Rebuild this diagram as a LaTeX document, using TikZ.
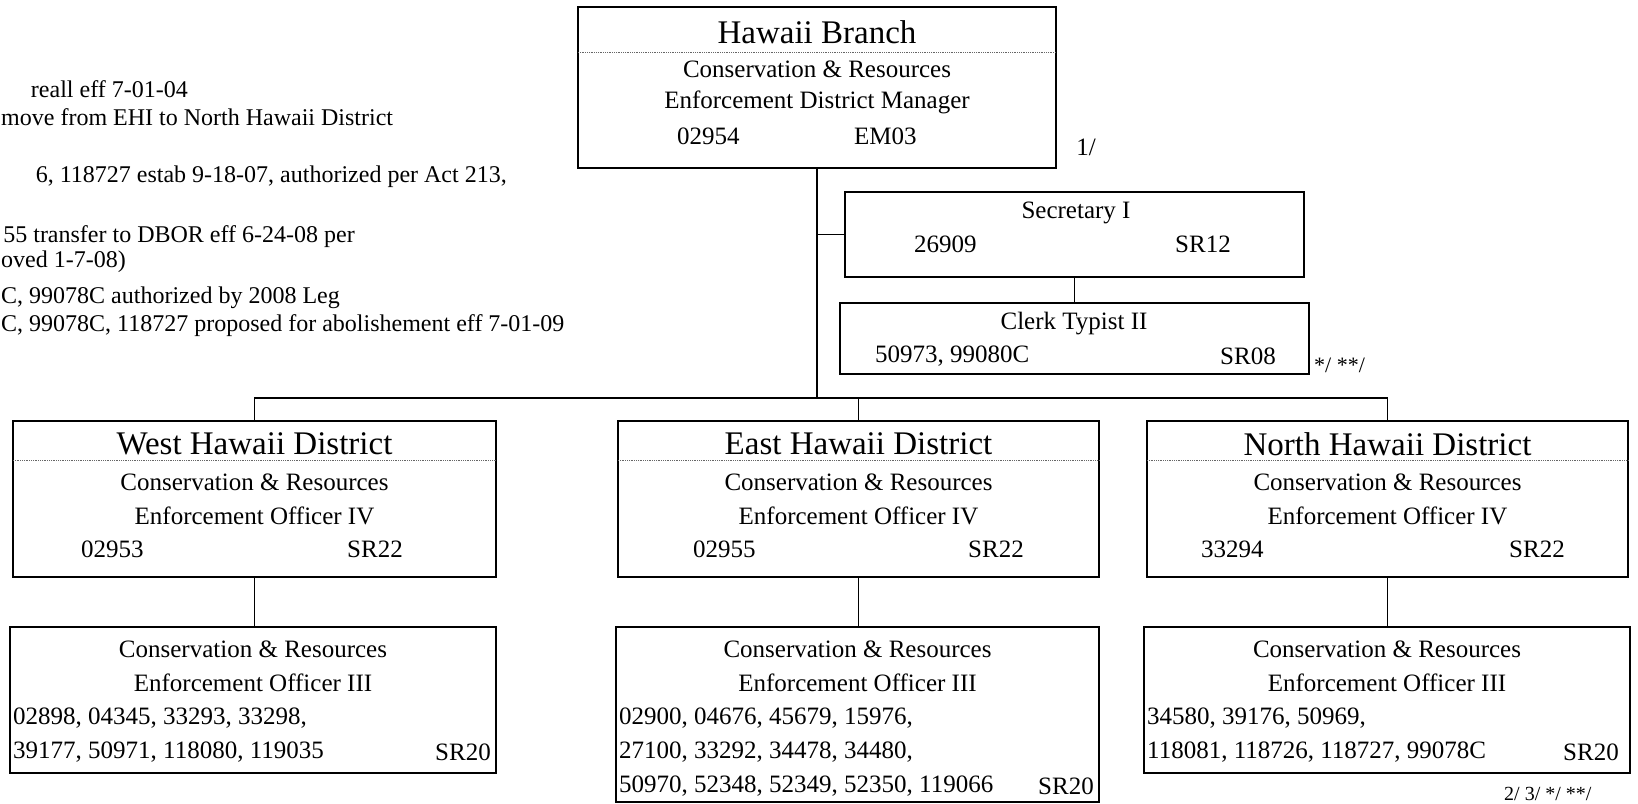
\documentclass[tikz,border=0pt]{standalone}
\usepackage{fontspec}
\setmainfont{Liberation Serif}
\usepackage{tikz}

\tikzset{
  box/.style={draw, line width=1.6pt, inner sep=0pt},
  link/.style={line width=1.6pt},
  divline/.style={densely dotted, line width=0.8pt, black!60},
  txt/.style={font=\fontsize{25}{30}\selectfont, inner sep=0pt},
  ttl/.style={font=\fontsize{33}{40}\selectfont, inner sep=0pt},
  note/.style={font=\fontsize{24}{28}\selectfont, inner sep=0pt, anchor=east},
  foot/.style={font=\fontsize{22}{26}\selectfont, inner sep=0pt}
}

\begin{document}
\begin{tikzpicture}[x=1pt, y=-1pt]
    \useasboundingbox (0,0) rectangle (1638,803);

    % Notes at the left
    \node[note] (n1) at (188,89) {reall eff 7-01-04};
    \node[note, anchor=west] (n2) at (1,117) {move from EHI to North Hawaii District};
    \node[note] (n3) at (507,177) {6, 118727 estab 9-18-07, authorized per Act 213,};
    \node[note] (n4) at (355,237) {55 transfer to DBOR eff 6-24-08 per};
    \node[note, anchor=west] (n5) at (1,262) {oved 1-7-08)};
    \node[note, anchor=west] (n6) at (1,298) {C, 99078C authorized by 2008 Leg};
    \node[note, anchor=west] (n7) at (1,326) {C, 99078C, 118727 proposed for abolishement eff 7-01-09};

    % Branch manager
    \node[box, minimum width=478pt, minimum height=161pt] (hb) at (817,87.5) {};
    \draw[divline] (578,52) -- (1056,52);
    \node[ttl] (hbT) at (817,32) {Hawaii Branch};
    \node[txt] (hbA) at (817,69) {Conservation \& Resources};
    \node[txt] (hbB) at (817,102) {Enforcement District Manager};
    \node[txt, anchor=west] (hbN) at (677,136) {02954};
    \node[txt, anchor=west] (hbG) at (854,136) {EM03};
    \node[txt] (fn1) at (1086,147) {1/};

    % Secretary and clerk
    \node[box, minimum width=459pt, minimum height=85pt] (sec) at (1074.5,234.5) {};
    \node[txt] (secT) at (1076,213) {Secretary I};
    \node[txt, anchor=west] (secN) at (914,244) {26909};
    \node[txt, anchor=west] (secG) at (1175,244) {SR12};
    \node[box, minimum width=469pt, minimum height=71pt] (clk) at (1074.5,338.5) {};
    \node[txt] (clkT) at (1074,324) {Clerk Typist II};
    \node[txt, anchor=west] (clkN) at (875,356) {50973, 99080C};
    \node[txt, anchor=west] (clkG) at (1220,356) {SR08};
    \node[foot, anchor=west] (fn2) at (1314,365) {*/ **/};

    % West Hawaii
    \node[box, minimum width=483pt, minimum height=156pt] (wd) at (254.5,499) {};
    \draw[divline] (13,460) -- (496,460);
    \node[ttl] (wdT) at (254.5,444) {West Hawaii District};
    \node[txt] (wdA) at (254.5,482) {Conservation \& Resources};
    \node[txt] (wdB) at (254.5,516) {Enforcement Officer IV};
    \node[txt, anchor=west] (wdN) at (81,549) {02953};
    \node[txt, anchor=west] (wdG) at (347,549) {SR22};

    % East Hawaii
    \node[box, minimum width=481pt, minimum height=156pt] (ed) at (858.5,499) {};
    \draw[divline] (618,460) -- (1099,460);
    \node[ttl] (edT) at (858.5,444) {East Hawaii District};
    \node[txt] (edA) at (858.5,482) {Conservation \& Resources};
    \node[txt] (edB) at (858.5,516) {Enforcement Officer IV};
    \node[txt, anchor=west] (edN) at (693,549) {02955};
    \node[txt, anchor=west] (edG) at (968,549) {SR22};

    % North Hawaii
    \node[box, minimum width=481pt, minimum height=156pt] (nd) at (1387.5,499) {};
    \draw[divline] (1147,460) -- (1628,460);
    \node[ttl] (ndT) at (1387.5,444) {North Hawaii District};
    \node[txt] (ndA) at (1387.5,482) {Conservation \& Resources};
    \node[txt] (ndB) at (1387.5,516) {Enforcement Officer IV};
    \node[txt, anchor=west] (ndN) at (1201,549) {33294};
    \node[txt, anchor=west] (ndG) at (1509,549) {SR22};

    % Officers III
    \node[box, minimum width=486pt, minimum height=146pt] (wl) at (253,700) {};
    \node[txt] (wlA) at (253,649) {Conservation \& Resources};
    \node[txt] (wlB) at (253,683) {Enforcement Officer III};
    \node[txt, anchor=west] (wlL1) at (13,718) {02898, 04345, 33293, 33298,};
    \node[txt, anchor=west] (wlL2) at (13,752) {39177, 50971, 118080, 119035};
    \node[txt, anchor=east] (wlG) at (491,752) {SR20};

    \node[box, minimum width=483pt, minimum height=175pt] (el) at (857.5,714.5) {};
    \node[txt] (elA) at (857.5,649) {Conservation \& Resources};
    \node[txt] (elB) at (857.5,683) {Enforcement Officer III};
    \node[txt, anchor=west] (elL1) at (619,718) {02900, 04676, 45679, 15976,};
    \node[txt, anchor=west] (elL2) at (619,752) {27100, 33292, 34478, 34480,};
    \node[txt, anchor=west] (elL3) at (619,786) {50970, 52348, 52349, 52350, 119066};
    \node[txt, anchor=east] (elG) at (1094,786) {SR20};

    \node[box, minimum width=486pt, minimum height=146pt] (nl) at (1387,700) {};
    \node[txt] (nlA) at (1387,649) {Conservation \& Resources};
    \node[txt] (nlB) at (1387,683) {Enforcement Officer III};
    \node[txt, anchor=west] (nlL1) at (1147,718) {34580, 39176, 50969,};
    \node[txt, anchor=west] (nlL2) at (1147,752) {118081, 118726, 118727, 99078C};
    \node[txt, anchor=east] (nlG) at (1619,752) {SR20};
    \node[foot, anchor=west, font=\fontsize{20}{24}\selectfont] (fn3) at (1504,794) {2/ 3/ */ **/};

    % Lines
    \coordinate (bus) at (817,398);
    \draw[link] (hb.south) -- (bus);
    \draw[link] (sec.west) -- (sec.west -| hb.south);
    \draw[link] (sec.south) -- (clk.north);
    \draw[link] (wd.north) |- (bus) -| (nd.north);
    \draw[link] (ed.north) -- (ed.north |- bus);
    \draw[link] (wd.south) -- (wd.south |- wl.north);
    \draw[link] (ed.south) -- (ed.south |- el.north);
    \draw[link] (nd.south) -- (nd.south |- nl.north);
\end{tikzpicture}
\end{document}
